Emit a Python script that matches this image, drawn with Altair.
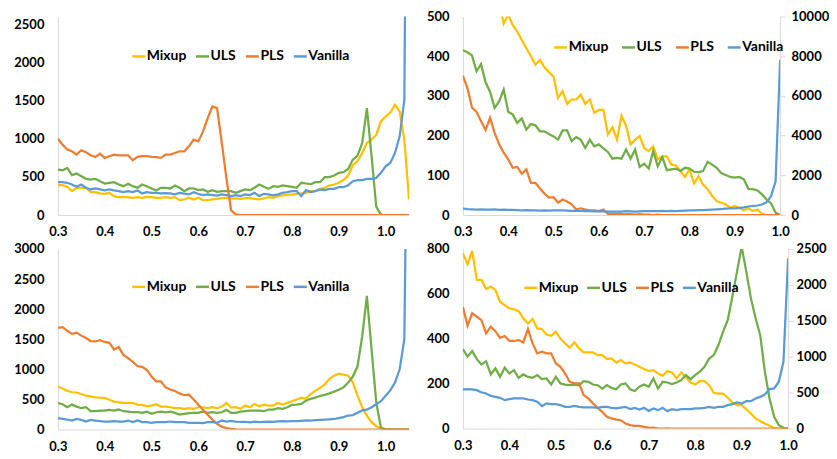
import altair as alt
import pandas as pd

# ---------------- data ----------------
series = ["Mixup", "ULS", "PLS", "Vanilla"]
colors = ["#FFC000", "#70AD47", "#ED7D31", "#5B9BD5"]

x_long = [round(0.30 + 0.01 * i, 2) for i in range(76)]   # 0.30 ... 1.05
x_short = [round(0.30 + 0.01 * i, 2) for i in range(71)]  # 0.30 ... 1.00
x_ticks = [0.3, 0.4, 0.5, 0.6, 0.7, 0.8, 0.9, 1.0]

# top-left panel
tl_mixup = [391, 391, 370, 313, 357, 357, 357, 300, 300, 283,
            278, 291, 248, 235, 239, 235, 226, 235, 226, 239,
            235, 226, 226, 235, 226, 235, 196, 204, 226, 204,
            226, 196, 196, 204, 213, 222, 226, 217, 217, 213,
            222, 226, 213, 204, 217, 235, 226, 248, 257, 265,
            270, 278, 283, 291, 313, 313, 343, 357, 387, 400,
            422, 457, 517, 652, 704, 813, 943, 987, 1052, 1226,
            1291, 1343, 1443, 1357, 987, 204]
tl_uls = [596, 587, 617, 522, 543, 509, 474, 465, 474, 443,
          413, 422, 430, 400, 378, 409, 378, 357, 400, 378,
          348, 322, 357, 357, 348, 387, 357, 313, 348, 348,
          326, 335, 304, 326, 304, 313, 313, 313, 291, 313,
          335, 326, 357, 400, 370, 343, 378, 370, 387, 378,
          370, 357, 422, 413, 404, 430, 430, 496, 496, 517,
          552, 561, 604, 726, 778, 943, 1400, 770, 110, 5,
          0, 0, 0, 0, 0, 0]
tl_pls = [1000, 922, 857, 835, 791, 848, 822, 783, 761, 804,
          748, 770, 791, 783, 783, 783, 717, 761, 770, 770,
          761, 757, 748, 791, 791, 813, 835, 835, 900, 987,
          965, 1096, 1270, 1422, 1400, 950, 480, 60, 8, 0,
          0, 0, 0, 0, 0, 0, 0, 0, 0, 0,
          0, 0, 0, 0, 0, 0, 0, 0, 0, 0,
          0, 0, 0, 0, 0, 0, 0, 0, 0, 0,
          0, 0, 0, 0, 0, 0]
tl_vanilla = [430, 430, 422, 400, 370, 400, 357, 335, 348, 335,
              322, 335, 322, 313, 300, 313, 300, 322, 283, 300,
              291, 291, 283, 287, 283, 270, 290, 280, 270, 300,
              275, 260, 270, 262, 255, 270, 262, 248, 261, 248,
              270, 261, 291, 248, 278, 270, 257, 270, 291, 300,
              313, 313, 248, 326, 300, 313, 335, 326, 343, 343,
              365, 365, 391, 443, 457, 457, 474, 474, 487, 552,
              639, 683, 813, 1030, 1509, 10000]

# top-right panel (Vanilla on the right axis)
tr_mixup = [760, 735, 700, 690, 650, 630, 600, 575, 535, 482,
            505, 478, 462, 441, 420, 400, 379, 391, 372, 360,
            349, 295, 312, 280, 291, 291, 303, 280, 291, 257,
            265, 265, 203, 221, 190, 250, 225, 178, 190, 199,
            169, 161, 173, 140, 148, 148, 127, 125, 111, 96,
            115, 80, 98, 77, 65, 48, 35, 31, 27, 18,
            23, 18, 12, 17, 10, 14, 3, 0, 0, 0,
            0]
tr_uls = [415, 410, 402, 362, 380, 335, 310, 270, 286, 316,
          260, 253, 232, 243, 215, 229, 226, 211, 211, 204,
          198, 190, 213, 213, 186, 196, 190, 169, 190, 173,
          178, 168, 159, 142, 144, 142, 165, 142, 165, 121,
          129, 117, 161, 123, 146, 113, 115, 117, 111, 119,
          117, 109, 108, 111, 134, 127, 119, 106, 101, 96,
          94, 96, 90, 66, 65, 62, 52, 39, 29, 6,
          0]
tr_pls = [351, 320, 271, 260, 236, 214, 245, 207, 178, 157,
          140, 119, 121, 104, 115, 81, 81, 67, 54, 44,
          45, 31, 39, 34, 27, 14, 17, 14, 12, 12,
          10, 14, 3, 3, 3, 3, 2, 2, 1, 2,
          1, 1, 0, 1, 0, 0, 0, 0, 0, 0,
          0, 0, 0, 0, 0, 0, 0, 0, 0, 0,
          0, 0, 0, 0, 0, 0, 0, 0, 0, 0,
          0]
tr_vanilla = [330, 300, 290, 270, 290, 270, 270, 280, 260, 270,
              265, 260, 250, 240, 250, 235, 240, 220, 240, 225,
              230, 230, 230, 225, 215, 205, 210, 200, 195, 190,
              185, 180, 170, 170, 175, 170, 195, 185, 170, 180,
              195, 200, 195, 200, 205, 200, 205, 200, 215, 225,
              235, 230, 245, 250, 265, 275, 285, 300, 320, 335,
              340, 360, 385, 430, 455, 480, 530, 640, 950, 1700,
              7820]

# bottom-left panel
bl_mixup = [715, 680, 645, 619, 615, 590, 562, 550, 535, 528,
            520, 495, 462, 452, 442, 442, 440, 414, 409, 387,
            398, 420, 381, 381, 370, 354, 354, 343, 354, 343,
            370, 370, 354, 370, 354, 381, 440, 365, 370, 343,
            398, 370, 425, 387, 414, 398, 398, 442, 414, 442,
            470, 500, 530, 515, 590, 646, 691, 751, 840, 895,
            928, 912, 895, 785, 564, 370, 232, 122, 55, 22,
            6, 0, 0, 0, 0, 0]
bl_uls = [437, 420, 370, 414, 381, 354, 370, 304, 304, 315,
          315, 326, 315, 332, 304, 298, 287, 287, 276, 298,
          260, 287, 298, 287, 298, 276, 249, 260, 271, 276,
          276, 298, 276, 287, 276, 287, 326, 276, 276, 298,
          304, 315, 315, 315, 304, 332, 332, 354, 343, 370,
          409, 414, 425, 480, 510, 530, 560, 575, 600, 630,
          660, 700, 780, 880, 1050, 1550, 2220, 1330, 450, 30,
          0, 0, 0, 0, 0, 0]
bl_pls = [1690, 1700, 1640, 1590, 1610, 1560, 1520, 1470, 1465, 1485,
          1455, 1440, 1330, 1370, 1240, 1185, 1125, 1055, 1040, 990,
          880, 800, 800, 700, 665, 640, 600, 570, 580, 500,
          410, 330, 245, 165, 95, 48, 22, 10, 4, 0,
          0, 0, 0, 0, 0, 0, 0, 0, 0, 0,
          0, 0, 0, 0, 0, 0, 0, 0, 0, 0,
          0, 0, 0, 0, 0, 0, 0, 0, 0, 0,
          0, 0, 0, 0, 0, 0]
bl_vanilla = [188, 177, 166, 149, 177, 160, 133, 160, 149, 138,
              133, 133, 138, 133, 133, 149, 122, 149, 122, 122,
              111, 122, 122, 122, 133, 122, 122, 122, 111, 111,
              111, 105, 122, 122, 111, 149, 133, 144, 133, 125,
              125, 118, 130, 122, 128, 132, 128, 135, 138, 135,
              140, 138, 145, 150, 148, 155, 160, 165, 170, 175,
              190, 205, 232, 240, 280, 318, 330, 370, 420, 470,
              560, 650, 780, 1000, 1500, 8000]

# bottom-right panel (Vanilla on the right axis)
br_mixup = [781, 732, 791, 662, 662, 622, 632, 617, 565, 550,
            535, 531, 523, 491, 468, 488, 446, 443, 419, 413,
            431, 401, 379, 360, 384, 357, 339, 339, 339, 327,
            327, 309, 312, 294, 305, 290, 294, 285, 275, 265,
            256, 260, 245, 235, 256, 250, 223, 250, 226, 205,
            196, 211, 211, 193, 159, 156, 156, 137, 116, 104,
            104, 86, 67, 45, 33, 22, 12, 3, 0, 0,
            0]
br_uls = [354, 320, 345, 309, 285, 300, 241, 268, 230, 271,
          245, 260, 226, 241, 230, 226, 238, 220, 223, 196,
          230, 201, 196, 193, 196, 193, 211, 208, 196, 193,
          178, 193, 181, 175, 196, 201, 175, 167, 186, 196,
          186, 223, 178, 208, 205, 198, 205, 216, 238, 220,
          238, 253, 275, 312, 327, 372, 431, 483, 587, 699,
          810, 699, 580, 491, 416, 253, 134, 52, 15, 3,
          0]
br_pls = [543, 458, 513, 498, 483, 424, 454, 434, 404, 412,
          390, 390, 394, 384, 443, 379, 335, 342, 335, 335,
          290, 275, 245, 208, 201, 201, 149, 134, 112, 92,
          74, 52, 45, 40, 37, 22, 15, 12, 12, 7,
          3, 4, 0, 0, 1, 0, 0, 0, 0, 0,
          0, 0, 0, 0, 0, 0, 0, 0, 0, 0,
          0, 0, 0, 0, 0, 0, 0, 0, 0, 0,
          0]
br_vanilla = [544, 548, 544, 534, 502, 488, 455, 441, 428, 395,
              409, 418, 418, 418, 404, 395, 372, 311, 349, 339,
              339, 325, 302, 302, 316, 302, 293, 293, 293, 288,
              302, 302, 288, 279, 290, 302, 270, 288, 265, 288,
              246, 279, 256, 288, 242, 270, 256, 270, 270, 270,
              279, 279, 288, 302, 288, 302, 302, 325, 339, 362,
              349, 381, 381, 418, 441, 474, 548, 558, 651, 929,
              2370]

# ---------------- styling ----------------
FONT = "Lato"
LINE = "#D9D9D9"
color_scale = alt.Scale(domain=series, range=colors)


def frame(xs, d):
    rows = []
    for name, vals in d.items():
        for x, v in zip(xs, vals):
            rows.append({"x": x, "v": v, "s": name})
    return pd.DataFrame(rows)


def legend(lx, ly, colpad):
    return alt.Legend(orient="none", legendX=lx, legendY=ly, direction="horizontal",
                      title=None, columnPadding=colpad, symbolType="stroke",
                      symbolSize=169, symbolStrokeWidth=2.5, labelOffset=0, padding=0,
                      labelFont=FONT, labelFontSize=14, labelFontWeight="bold",
                      labelColor="#000000")


def x_enc(xmax):
    return alt.X("x:Q", scale=alt.Scale(domain=[0.3, xmax], nice=False, zero=False),
                 axis=alt.Axis(values=x_ticks, format=".1f", title=None, ticks=False,
                               labelFlush=False, labelOverlap=False, labelPadding=11,
                               domainColor=LINE, grid=False))


def y_enc(dom, ticks, orient="left", pad=14, tick=False):
    ax = alt.Axis(values=ticks, format="d", title=None, orient=orient, labelPadding=pad,
                  ticks=tick, tickSize=5 if tick else 0, tickColor=LINE,
                  domainColor=LINE, grid=False, labelOverlap=False)
    return alt.Y("v:Q", scale=alt.Scale(domain=dom, nice=False, zero=True), axis=ax)


def single(xs, xmax, d, dom, ticks, W, H, leg):
    df = frame(xs, d)
    return alt.Chart(df).mark_line(strokeWidth=2.25, clip=True).encode(
        x=x_enc(xmax),
        y=y_enc(dom, ticks),
        color=alt.Color("s:N", scale=color_scale, sort=series, legend=leg),
    ).properties(width=W, height=H)


def dual(xs, d_left, van, ldom, lticks, rdom, rticks, W, H, leg, rpad):
    left = alt.Chart(frame(xs, d_left)).mark_line(strokeWidth=2.25, clip=True).encode(
        x=x_enc(1.0),
        y=y_enc(ldom, lticks),
        color=alt.Color("s:N", scale=color_scale, sort=series, legend=leg),
    )
    right = alt.Chart(frame(xs, {"Vanilla": van})).mark_line(strokeWidth=2.25, clip=True).encode(
        x=x_enc(1.0),
        y=y_enc(rdom, rticks, orient="right", pad=rpad, tick=True),
        color=alt.Color("s:N", scale=color_scale, sort=series, legend=leg),
    )
    return alt.layer(left, right).resolve_scale(y="independent").properties(width=W, height=H)


tl = single(x_long, 1.05,
            {"Mixup": tl_mixup, "ULS": tl_uls, "PLS": tl_pls, "Vanilla": tl_vanilla},
            [0, 2600], [0, 500, 1000, 1500, 2000, 2500], 352, 199, legend(73, 32, 4))

tr = dual(x_short, {"Mixup": tr_mixup, "ULS": tr_uls, "PLS": tr_pls}, tr_vanilla,
          [0, 500], [0, 100, 200, 300, 400, 500],
          [0, 10000], [0, 2000, 4000, 6000, 8000, 10000],
          318, 199, legend(90, 23, 8), 6)

bl = single(x_long, 1.05,
            {"Mixup": bl_mixup, "ULS": bl_uls, "PLS": bl_pls, "Vanilla": bl_vanilla},
            [0, 3000], [0, 500, 1000, 1500, 2000, 2500, 3000], 352, 181, legend(73, 30, 4))

br = dual(x_short, {"Mixup": br_mixup, "ULS": br_uls, "PLS": br_pls}, br_vanilla,
          [0, 800], [0, 200, 400, 600, 800],
          [0, 2500], [0, 500, 1000, 1500, 2000, 2500],
          326, 180, legend(60, 31, 3), 3)

row1 = alt.hconcat(tl, tr, spacing=54, bounds="flush").resolve_scale(color="independent").resolve_legend(color="independent")
row2 = alt.hconcat(bl, br, spacing=54, bounds="flush").resolve_scale(color="independent").resolve_legend(color="independent")

chart = alt.vconcat(row1, row2, spacing=4).resolve_scale(
    color="independent").resolve_legend(color="independent").properties(
    padding={"left": 5, "top": 2, "right": 0, "bottom": 0}
).configure_view(stroke=None).configure_axis(
    labelFont=FONT, labelFontSize=13, labelFontWeight="bold", labelColor="#000000",
    domainWidth=1
)

chart.save("out.html", embed_options={"renderer": "svg", "actions": False})
